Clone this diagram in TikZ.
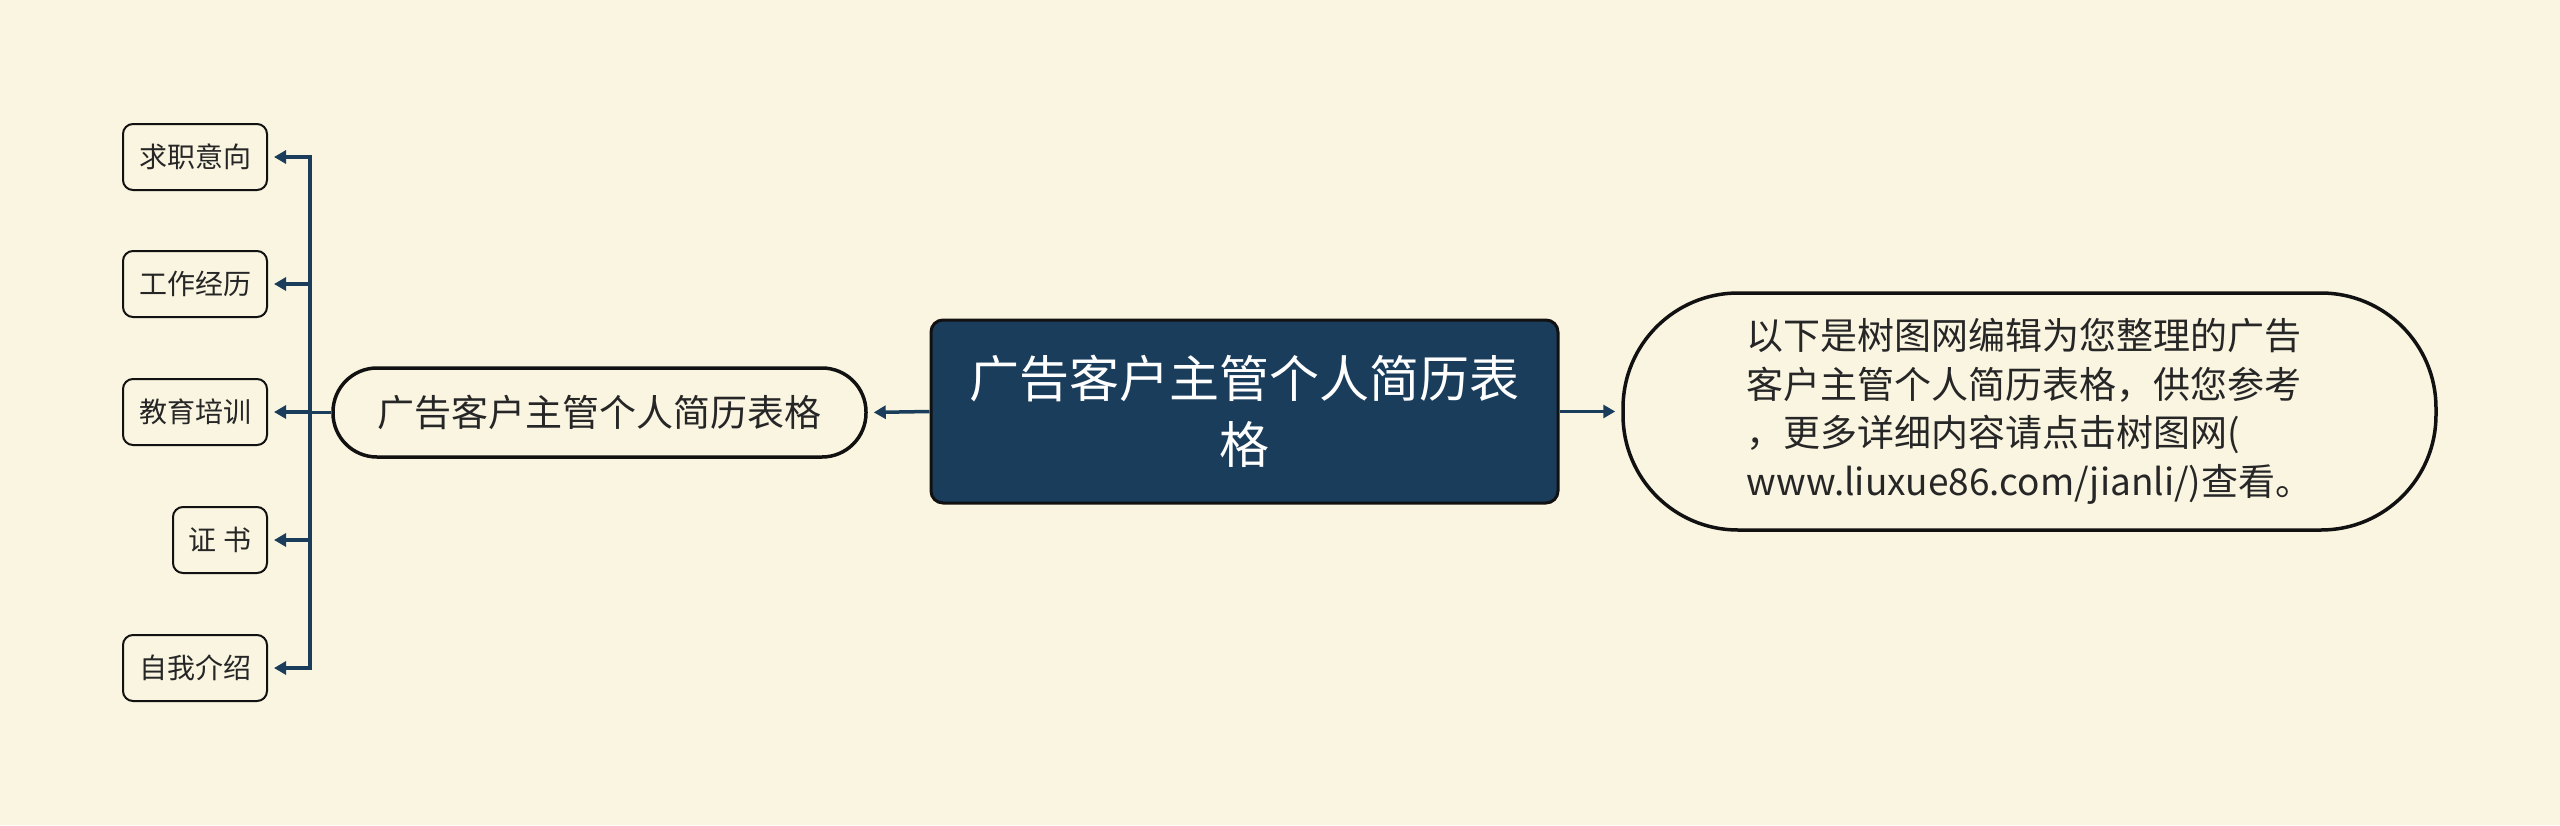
\documentclass[tikz,border=0pt]{standalone}
\usepackage{fontspec}
\setmainfont{Noto Sans CJK SC}
\usetikzlibrary{arrows.meta}
\definecolor{bg}{HTML}{FAF5E1}
\definecolor{navy}{HTML}{1A3D5C}
\definecolor{ink}{HTML}{111111}
\definecolor{txt}{HTML}{262626}
\begin{document}
\begin{tikzpicture}[x=1pt,y=-1pt,
  leaf/.style={draw=ink, line width=2pt, rounded corners=10pt, fill=bg, minimum height=66pt, inner sep=0pt, font=\fontsize{28}{34}\selectfont, text=txt},
  pillbox/.style={draw=ink, line width=3.5pt, rounded corners=44pt, fill=bg, minimum width=533pt, minimum height=89pt, inner sep=0pt, font=\fontsize{37}{46}\selectfont, text=txt},
  rootbox/.style={draw=ink, line width=3pt, rounded corners=12pt, fill=navy, minimum width=627pt, minimum height=183pt, inner sep=0pt, align=center, font=\fontsize{50}{66}\selectfont, text=white},
  notebox/.style={draw=ink, line width=3.5pt, rounded corners=115pt, fill=bg, minimum width=813pt, minimum height=237pt, inner sep=0pt, align=left, font=\fontsize{37}{48.5}\selectfont, text=txt},
  conn/.style={draw=navy, line width=3.5pt, -{Triangle[length=12pt,width=13pt]}, shorten >=6pt}
]
\fill[bg] (0,0) rectangle (2560,825);
\useasboundingbox (0,0) rectangle (2560,825);

\node[leaf, minimum width=144pt] (l1) at (195,157) {求职意向};
\node[leaf, minimum width=144pt] (l2) at (195,284) {工作经历};
\node[leaf, minimum width=144pt] (l3) at (195,412) {教育培训};
\node[leaf, minimum width=94pt]  (l4) at (220,540) {证\ 书};
\node[leaf, minimum width=144pt] (l5) at (195,668) {自我介绍};

\node[pillbox] (pill) at (599.5,412.5) {广告客户主管个人简历表格};
\node[rootbox] (root) at (1244.5,411.5) {广告客户主管个人简历表\\格};
\node[notebox] (note) at (2029.5,411.5) {以下是树图网编辑为您整理的广告\\客户主管个人简历表格，供您参考\\，更多详细内容请点击树图网(\\www.liuxue86.com/jianli/)查看。};

\coordinate (bus) at (310,412.5);
\foreach \n in {l1,l2,l3,l4,l5}
  \draw[conn] (pill.west) -- (bus) |- (\n.east);
\draw[conn] (root.west) -- (pill.east);
\draw[conn] (root.east) -- (note.west);
\end{tikzpicture}
\end{document}
